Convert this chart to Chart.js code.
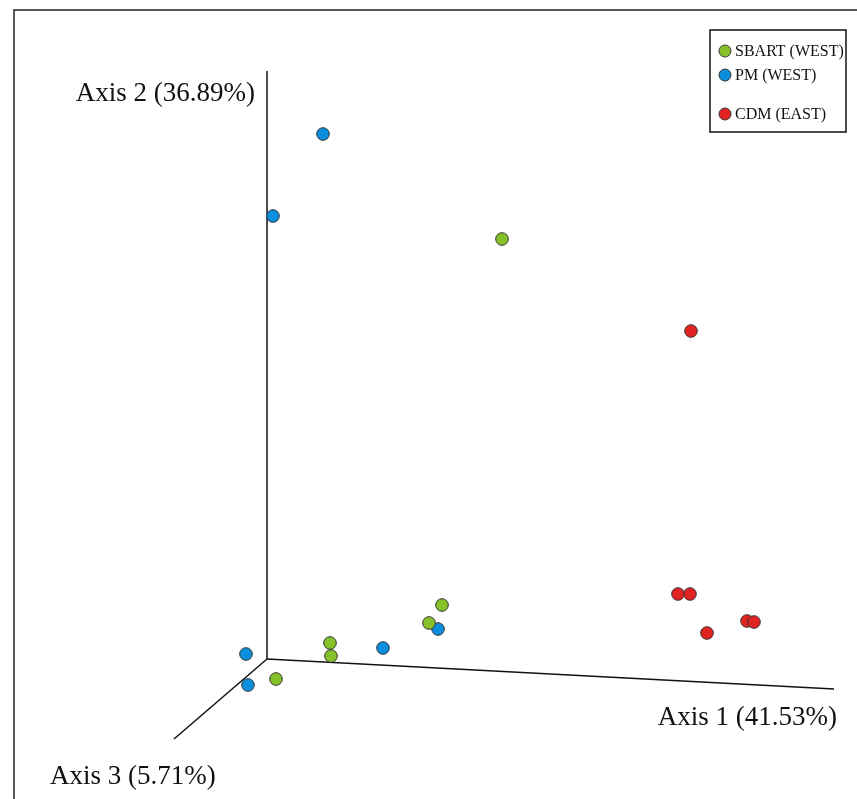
<!DOCTYPE html>
<html>
<head>
<meta charset="utf-8">
<script src="https://cdn.jsdelivr.net/npm/chart.js@4"></script>
<style>
  html, body { margin: 0; padding: 0; background: #fff; }
  #wrap { width: 857px; height: 799px; position: relative; }
</style>
</head>
<body>
<div id="wrap"><canvas id="myChart"></canvas></div>
<script>
// projected ordination coordinates (origin = where the three axes meet)
const pmPoints = [
    {x: 56, y: 525}, {x: 6, y: 443}, {x: -21, y: 5},
    {x: -19, y: -26}, {x: 116, y: 11}, {x: 171, y: 30}
];
const sbartPoints = [
    {x: 235, y: 420}, {x: 175, y: 54}, {x: 162, y: 36},
    {x: 63, y: 16}, {x: 64, y: 3}, {x: 9, y: -20}
];
const cdmPoints = [
    {x: 424, y: 328}, {x: 411, y: 65}, {x: 423, y: 65},
    {x: 440, y: 26}, {x: 480, y: 38}, {x: 487, y: 37}
];

// axis ends in the same projected space
const axis1End = {x: 567, y: -30};
const axis2End = {x: 0, y: 588};
const axis3End = {x: -93, y: -80};
const origin = {x: 0, y: 0};

const groupLabels = ['SBART (WEST)', 'PM (WEST)', 'CDM (EAST)'];
const groupColors = ['#86c12a', '#0b8edb', '#e02320'];
const axisTitles = ['Axis 1 (41.53%)', 'Axis 2 (36.89%)', 'Axis 3 (5.71%)'];

const ctx = document.getElementById('myChart');

function pointSet(label, data, color){
    return {
        type: 'scatter',
        label: label,
        data: data,
        backgroundColor: color,
        borderColor: '#333',
        borderWidth: 1,
        pointRadius: 6.3,
        order: 0
    };
}
function axisLine(label, end){
    return {
        type: 'line',
        label: label,
        data: [origin, end],
        borderColor: '#111',
        borderWidth: 1.5,
        pointRadius: 0,
        fill: false,
        order: 5
    };
}

const framePlugin = {
    id: 'frameAndText',
    beforeDatasetsDraw(chart){
        const c = chart.ctx;
        c.save();
        c.strokeStyle = '#222';
        c.lineWidth = 1.5;
        c.beginPath();
        c.moveTo(14, 799);
        c.lineTo(14, 10);
        c.lineTo(857, 10);
        c.stroke();
        c.restore();
    },
    afterDatasetsDraw(chart){
        const c = chart.ctx;
        const xs = chart.scales.x, ys = chart.scales.y;
        c.save();
        c.fillStyle = '#111';
        c.font = '27px "Liberation Serif", "Times New Roman", serif';
        c.textBaseline = 'alphabetic';
        // Axis 2 title, left of the top of the vertical axis
        c.textAlign = 'right';
        c.fillText(axisTitles[1], xs.getPixelForValue(axis2End.x) - 12, ys.getPixelForValue(axis2End.y) + 30);
        // Axis 1 title, under its end
        c.fillText(axisTitles[0], xs.getPixelForValue(axis1End.x) + 3, ys.getPixelForValue(axis1End.y) + 36);
        // Axis 3 title, under its end
        c.textAlign = 'left';
        c.fillText(axisTitles[2], xs.getPixelForValue(axis3End.x) - 124, ys.getPixelForValue(axis3End.y) + 45);

        // legend box
        c.strokeStyle = '#111';
        c.lineWidth = 1.5;
        c.strokeRect(710, 30, 136, 102);
        const rows = [51, 75, 114];
        c.font = '16px "Liberation Serif", "Times New Roman", serif';
        c.textBaseline = 'middle';
        c.textAlign = 'left';
        groupLabels.forEach((lab, i) => {
            c.beginPath();
            c.arc(725, rows[i], 6, 0, Math.PI * 2);
            c.fillStyle = groupColors[i];
            c.fill();
            c.lineWidth = 1;
            c.strokeStyle = '#333';
            c.stroke();
            c.fillStyle = '#111';
            c.fillText(lab, 735, rows[i] + 1);
        });
        c.restore();
    }
};

const config = {
    type: 'scatter',
    data: {
        datasets: [
            axisLine('Axis 1', axis1End),
            axisLine('Axis 2', axis2End),
            axisLine('Axis 3', axis3End),
            pointSet(groupLabels[0], sbartPoints, groupColors[0]),
            pointSet(groupLabels[1], pmPoints, groupColors[1]),
            pointSet(groupLabels[2], cdmPoints, groupColors[2])
        ]
    },
    options: {
        responsive: true,
        maintainAspectRatio: false,
        animation: false,
        layout: { padding: 0, autoPadding: false },
        scales: {
            x: { type: 'linear', min: -267, max: 590, display: false },
            y: { type: 'linear', min: -140, max: 659, display: false }
        },
        plugins: {
            legend: { display: false },
            title: { display: false },
            tooltip: { enabled: false }
        }
    },
    plugins: [framePlugin]
};

const chart = new Chart(ctx, config);
</script>
</body>
</html>
